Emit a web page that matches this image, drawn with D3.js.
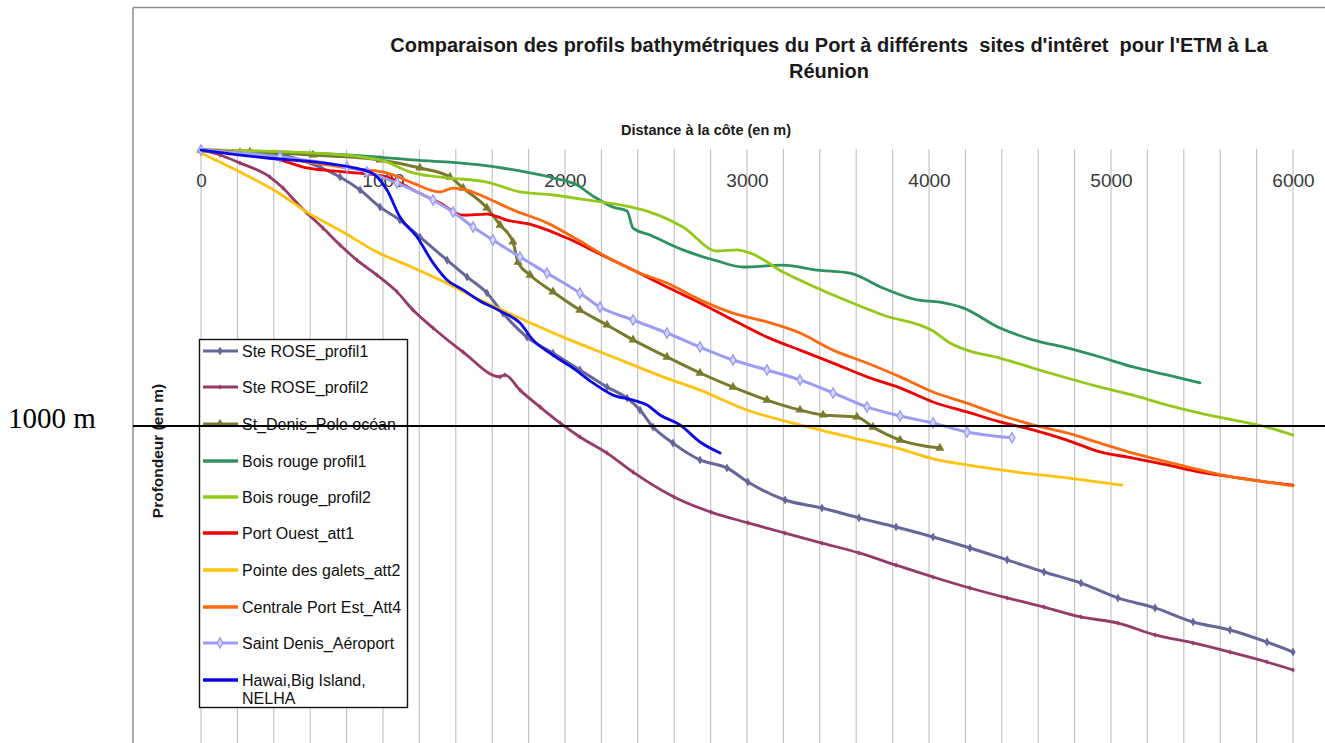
<!DOCTYPE html>
<html><head><meta charset="utf-8">
<script src="https://cdn.jsdelivr.net/npm/d3@7"></script>
<style>body{margin:0;background:#fff;} svg{display:block;}</style>
</head><body>
<svg id="chart" width="1325" height="743"></svg>
<script>
// ---------- data (distance à la côte in m, profondeur in m) ----------
const xTickLabels = [0, 1000, 2000, 3000, 4000, 5000, 6000];
const gridValues = d3.range(0, 6001, 200);
const titleLines = ["Comparaison des profils bathymétriques du Port à différents  sites d'intêret  pour l'ETM à La", "Réunion"];
const xTitle = "Distance à la côte (en m)";
const yTitle = "Profondeur (en m)";
const refDepth = 1000;
const refLabel = "1000 m";

const seriesNames = ["Ste ROSE_profil1", "Ste ROSE_profil2", "St_Denis_Pole océan", "Bois rouge profil1",
  "Bois rouge_profil2", "Port Ouest_att1", "Pointe des galets_att2", "Centrale Port Est_Att4",
  "Saint Denis_Aéroport", "Hawai,Big Island, NELHA"];

const steRose1 = [[0,0],[214,7],[434,18],[654,62],[764,98],[874,145],[984,207],[1093,254],[1203,315],[1352,399],
  [1462,460],[1571,518],[1659,591],[1791,678],[1934,736],[2082,797],[2231,859],[2341,899],[2412,942],[2484,1004],
  [2593,1062],[2742,1123],[2890,1152],[3005,1203],[3209,1268],[3412,1297],[3615,1333],[3819,1366],[4022,1402],
  [4225,1442],[4429,1485],[4632,1529],[4835,1569],[5038,1623],[5242,1659],[5451,1710],[5654,1739],[5857,1783],[6000,1819]];
const steRose2 = [[0,0],[104,18],[214,47],[379,98],[451,138],[527,192],[582,228],[670,283],[764,344],[857,399],
  [967,453],[1077,514],[1165,580],[1275,645],[1440,732],[1643,822],[1670,815],[1753,870],[1863,931],[1973,989],
  [2082,1040],[2231,1098],[2374,1167],[2599,1257],[2802,1312],[3005,1351],[3209,1388],[3412,1424],[3615,1460],
  [3819,1504],[4022,1547],[4225,1587],[4429,1623],[4632,1656],[4835,1692],[5038,1714],[5242,1757],[5451,1786],
  [5654,1819],[5857,1855],[6000,1884]];
const stDenisPole = [[0,0],[269,7],[615,18],[984,36],[1203,65],[1368,98],[1440,138],[1571,210],[1643,272],[1714,333],
  [1742,406],[1808,453],[1934,514],[2082,580],[2231,634],[2374,688],[2560,750],[2742,808],[2923,859],[3110,906],
  [3291,942],[3418,960],[3604,967],[3692,1004],[3841,1051],[4060,1080]];
const boisRouge1 = [[0,0],[434,7],[802,18],[1165,36],[1533,54],[1753,76],[1934,101],[2066,127],[2154,167],[2264,207],
  [2341,221],[2374,283],[2467,308],[2648,362],[2835,402],[2978,424],[3198,417],[3385,435],[3566,446],[3747,500],
  [3934,543],[4060,551],[4187,572],[4390,645],[4571,688],[4758,717],[4940,750],[5121,786],[5308,815],[5489,844]];
const boisRouge2 = [[0,0],[615,11],[984,36],[1165,83],[1352,101],[1571,116],[1753,152],[1934,163],[2121,181],[2303,199],
  [2467,225],[2648,279],[2835,366],[2945,362],[3016,373],[3198,442],[3385,500],[3566,551],[3747,598],[4022,656],
  [4115,699],[4209,725],[4390,754],[4571,790],[4758,826],[4940,859],[5121,888],[5308,924],[5489,953],[5670,978],
  [5857,1004],[6000,1033]];
const portOuest = [[0,0],[434,36],[582,65],[802,80],[1022,98],[1165,145],[1313,192],[1440,236],[1571,232],[1681,254],
  [1824,272],[2011,319],[2192,377],[2374,435],[2560,496],[2742,554],[2923,616],[3110,678],[3291,725],[3473,772],
  [3659,822],[3841,862],[4022,913],[4209,949],[4390,985],[4571,1014],[4758,1051],[4940,1094],[5121,1116],[5308,1141],
  [5489,1167],[5670,1185],[5857,1203],[6000,1214]];
const pointeGalets = [[0,11],[214,80],[418,152],[582,225],[780,297],[967,370],[1132,417],[1313,471],[1533,543],[1714,598],
  [1989,678],[2264,750],[2538,822],[2742,870],[3000,942],[3291,996],[3582,1043],[3841,1083],[4022,1119],[4209,1141],
  [4484,1167],[4758,1188],[5060,1214]];
const centralePortEst = [[0,0],[434,29],[802,65],[1022,83],[1165,120],[1313,152],[1385,138],[1462,145],[1571,174],[1714,217],
  [1901,264],[2082,330],[2209,380],[2396,442],[2560,482],[2742,543],[2923,591],[3110,623],[3291,663],[3473,725],
  [3659,772],[3841,822],[4022,877],[4209,917],[4390,960],[4571,996],[4758,1025],[4940,1062],[5121,1098],[5308,1130],
  [5489,1159],[5670,1185],[5857,1203],[6000,1217]];
const stDenisAeroport = [[0,0],[434,25],[802,62],[912,80],[1077,120],[1275,181],[1385,225],[1495,279],[1604,326],[1753,388],
  [1901,446],[2082,518],[2192,569],[2374,616],[2560,663],[2742,714],[2923,761],[3110,797],[3291,833],[3473,880],
  [3659,931],[3841,964],[4022,989],[4209,1022],[4456,1043]];
const hawaiNelha = [[0,0],[363,29],[670,47],[929,80],[1022,145],[1093,243],[1187,315],[1275,409],[1352,471],[1440,507],
  [1533,547],[1643,583],[1753,627],[1824,688],[1934,743],[2044,790],[2154,844],[2264,888],[2374,906],[2451,924],
  [2522,960],[2632,996],[2742,1058],[2852,1098]];

const seriesData = [steRose1, steRose2, stDenisPole, boisRouge1, boisRouge2, portOuest, pointeGalets, centralePortEst, stDenisAeroport, hawaiNelha];

// ---------- styles ----------
const seriesColors = ["#66669a", "#953a69", "#7a7a2e", "#2f9160", "#94c81a", "#f00000", "#ffc20e", "#ff6a10", "#9c9cf5", "#0a0ae6"];
const seriesMarkers = ["diamond", "dash", "triangle", null, null, null, null, null, "hollowDiamond", null];

const svg = d3.select("#chart");
const x = d3.scaleLinear().domain([0, 6000]).range([201, 1293]);
const y = d3.scaleLinear().domain([0, 1000]).range([150, 426]);
const FONT = "Liberation Sans, Arial, sans-serif";

// frame
svg.append("line").attr("x1", 133).attr("x2", 1325).attr("y1", 7.5).attr("y2", 7.5).attr("stroke", "#8c8c8c").attr("stroke-width", 1.5);
svg.append("line").attr("x1", 133).attr("x2", 133).attr("y1", 7.5).attr("y2", 743).attr("stroke", "#8c8c8c").attr("stroke-width", 1.5);

// gridlines
svg.append("g").selectAll("line").data(gridValues).join("line")
  .attr("x1", d => x(d)).attr("x2", d => x(d)).attr("y1", y(0) - 1).attr("y2", 743)
  .attr("stroke", "#c4c4c4").attr("stroke-width", 1.2);

// tick labels via axis
const axis = d3.axisTop(x).tickValues(xTickLabels).tickSize(0).tickPadding(0).tickFormat(d3.format("d"));
const gAxis = svg.append("g").attr("transform", "translate(0,187)").call(axis);
gAxis.select(".domain").remove();
gAxis.selectAll("text").attr("font-family", FONT).attr("font-size", 19).attr("fill", "#3a3a3a").attr("dy", 0);

// titles
const title = svg.append("g").attr("font-family", FONT).attr("font-weight", "bold").attr("fill", "#1a1a1a");
title.selectAll("text").data(titleLines).join("text")
  .attr("x", 829).attr("y", (d, i) => 52 + i * 26).attr("text-anchor", "middle").attr("font-size", 20)
  .style("white-space", "pre").attr("xml:space", "preserve").text(d => d);
svg.append("text").attr("x", 706).attr("y", 135).attr("text-anchor", "middle")
  .attr("font-family", FONT).attr("font-weight", "bold").attr("font-size", 14.5).attr("fill", "#1a1a1a").text(xTitle);
svg.append("text").attr("transform", "translate(163,451) rotate(-90)").attr("text-anchor", "middle")
  .attr("font-family", FONT).attr("font-weight", "bold").attr("font-size", 15.5).attr("fill", "#1a1a1a").text(yTitle);

// series
const line = d3.line().x(d => x(d[0])).y(d => y(d[1])).curve(d3.curveMonotoneX);
const sym = {
  diamond: d3.symbol().type(d3.symbolDiamond).size(24),
  dash: d3.symbol().type(d3.symbolDiamond).size(9),
  triangle: d3.symbol().type(d3.symbolTriangle).size(36),
  hollowDiamond: d3.symbol().type(d3.symbolDiamond).size(30)
};
function drawMarker(g, type, color, px, py) {
  if (!type) return;
  const p = g.append("path").attr("d", sym[type]()).attr("transform", `translate(${px},${py})`);
  if (type === "hollowDiamond") p.attr("fill", "#d8d8ff").attr("stroke", color).attr("stroke-width", 1.4);
  else p.attr("fill", color);
}
const gSeries = svg.append("g");
seriesData.forEach((data, i) => {
  const g = gSeries.append("g");
  g.append("path").datum(data).attr("d", line).attr("fill", "none").attr("stroke", seriesColors[i])
    .attr("stroke-width", seriesMarkers[i] && seriesMarkers[i] !== "dash" ? 3 : 2.8).attr("stroke-linejoin", "round").attr("stroke-linecap", "round");
  if (seriesMarkers[i]) data.forEach(d => drawMarker(g, seriesMarkers[i], seriesColors[i], x(d[0]), y(d[1])));
});

// legend
const legend = svg.append("g");
legend.append("rect").attr("x", 199.5).attr("y", 339.5).attr("width", 208).attr("height", 368)
  .attr("fill", "#fff").attr("stroke", "#111").attr("stroke-width", 1.4);
const legendY = [351, 387, 424, 461, 497, 533, 570, 607, 643, 680];
seriesNames.forEach((name, i) => {
  const cy = legendY[i];
  legend.append("line").attr("x1", 203).attr("x2", 238).attr("y1", cy).attr("y2", cy)
    .attr("stroke", seriesColors[i]).attr("stroke-width", seriesMarkers[i] ? 3 : 3.5);
  drawMarker(legend, seriesMarkers[i], seriesColors[i], 220, cy);
  const lines = i === 9 ? ["Hawai,Big Island,", "NELHA"] : [name];
  lines.forEach((t, j) => legend.append("text").attr("x", 242).attr("y", cy + 5.5 + j * 18)
    .attr("font-family", FONT).attr("font-size", 16).attr("fill", "#111").text(t));
});

// 1000 m reference line
svg.append("line").attr("x1", 133).attr("x2", 1325).attr("y1", y(refDepth)).attr("y2", y(refDepth)).attr("stroke", "#000").attr("stroke-width", 2);
svg.append("text").attr("x", 8).attr("y", 428).attr("font-family", "Liberation Serif, serif").attr("font-size", 29).attr("fill", "#000").text(refLabel);
</script>
</body></html>
